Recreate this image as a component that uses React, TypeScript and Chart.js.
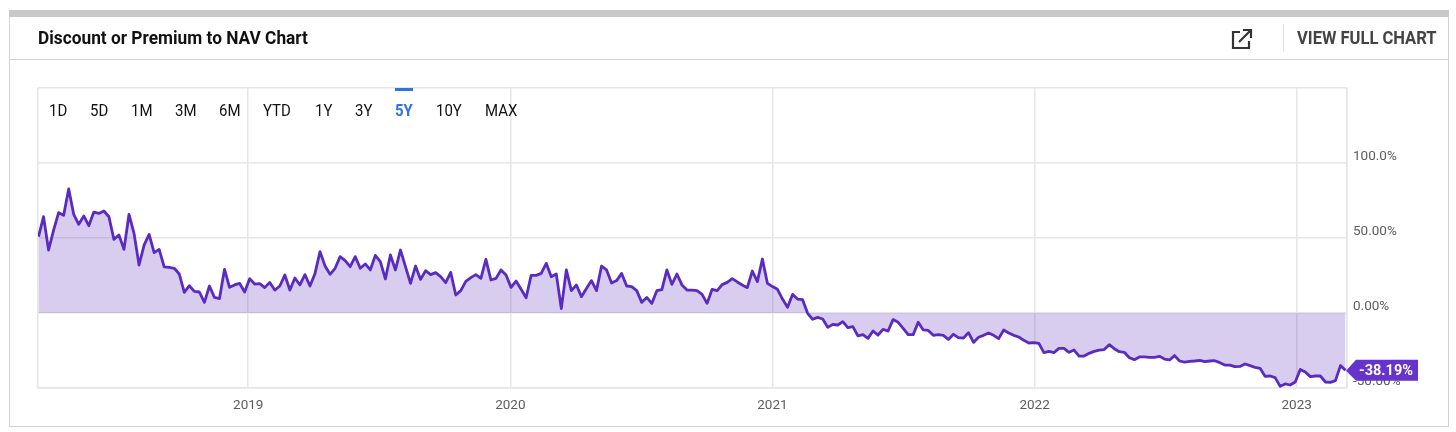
import React, { useEffect, useRef } from "react";
import { Chart, registerables } from "chart.js";

Chart.register(...registerables);

const title = "Discount or Premium to NAV Chart";
const fullChartLabel = "VIEW FULL CHART";
const rangeLabels = ["1D", "5D", "1M", "3M", "6M", "YTD", "1Y", "3Y", "5Y", "10Y", "MAX"];
const rangeLeft = [49, 90, 131, 175, 219, 263, 315, 355, 395, 436, 485];
const activeRange = "5Y";

const yearTicks = [2019, 2020, 2021, 2022, 2023];
const xMin = 2018.198;
const xMax = 2023.192;
const firstWeek = 2018.2;
const weekInYears = 7 / 365;
const yTickValues = [-50, 0, 50, 100, 150];
const yTickLabels = ["-50.00%", "0.00%", "50.00%", "100.0%", ""];
const lastLabel = "-38.19%";

const premium = [
  50.9, 64.2, 42, 55.3, 66.9, 65.1, 82.7, 65.8, 59.1, 64.7, 58.2, 67.3, 66.4, 68, 64.2, 49.1, 52, 42.4, 65.8, 53.1,
  32, 45.3, 52.4, 40.2, 42.4, 30.7, 30.4, 29.8, 26, 13.8, 18.2, 14.4, 14, 7.1, 18, 10.4, 9.6, 29.1, 17.1, 18.7,
  19.8, 14, 22.9, 19.3,
  19.6, 16.9, 20.4, 15.3, 18, 25.3, 15.3, 23.3, 18.7, 25.6, 18, 26.4, 40.9, 31.3, 25.8, 29.8, 37.6, 34.9, 30.9, 37.6,
  29.8, 32.7, 28.7, 38.4, 34.2, 22.7, 38.7, 28.7, 42, 30.9, 19.8, 31.3, 22.4, 28.2, 25.6, 26.9, 24.2, 20.2, 27.1, 12,
  14.9, 21.1, 23.6, 25.6,
  23.1, 35.8, 22, 23.1, 28.7, 25.3, 17.1, 21.3, 15.8, 10.2, 25.1, 25.1, 26.4, 33.1, 24.2, 26, 2.9, 28.7, 14.9, 18.7,
  10.9, 16.4, 21.6, 14.9, 31.3, 28.7, 20, 21.6, 26.4, 18, 17.6, 14.9, 7.1, 10.4, 6.4, 14.9, 15.6, 28.7, 19.1, 26,
  18.7, 15.3, 15.3, 14.9,
  12.4, 6.4, 15.8, 14.9, 18.9, 20.4, 22.9, 20.7, 18.7, 16.9, 28, 20.9, 36, 19.8, 17.6, 15.8, 9.3, 3.8, 12.4, 9.3,
  8.9, -0.2, -4.2, -2.9, -4, -9.6, -7.6, -8, -5.8, -9.8, -9.1, -15.3, -14.4, -16.9, -12, -14.7, -10.9, -12, -4.4, -6.2,
  -10.2, -14.4, -14.4,
  -6.2, -11.3, -11.6, -14.9, -14.4, -14.9, -17.6, -14.2, -16.4, -16.7, -13.1, -19.6, -16.2, -14.9, -13.3, -14.9, -17.1, -11.3, -13.3, -14.9,
  -16, -18.2, -20, -19.8, -20.2, -26.4, -25.6, -26.4, -23.6, -23.6, -26.2, -24.7, -28.7, -28.7, -26.9, -25.6, -24.7, -24.4, -21.1, -23.8,
  -25.8, -26.2, -29.8, -31.1,
  -29.3, -29.3, -29.6, -29.6, -28.9, -30.7, -31.3, -28.4, -32, -32.7, -32.2, -32, -31.6, -32.4, -32, -31.8, -33.1, -34.7, -34.7, -35.8,
  -35.6, -34, -35.1, -36.2, -36.9, -42.2, -42, -43.1, -48.9, -47.3, -48, -46, -37.6, -39.3, -42.4, -42, -42, -46, -46.2, -45.1,
  -35.1, -38.19,
];

const lastValueTag = {
  id: "lastValueTag",
  afterDraw(chart: any) {
    const { ctx, chartArea, scales } = chart;
    const y = scales.y.getPixelForValue(premium[premium.length - 1]);
    const tip = chartArea.right - 1;
    const h = 10.5;
    ctx.save();
    ctx.fillStyle = "#6633cc";
    ctx.beginPath();
    ctx.moveTo(tip, y + 0.5);
    ctx.lineTo(tip + 10, y - h);
    ctx.lineTo(1418, y - h);
    ctx.lineTo(1418, y + h);
    ctx.lineTo(tip + 10, y + h);
    ctx.closePath();
    ctx.fill();
    ctx.fillStyle = "#ffffff";
    ctx.font = "bold 14.5px Roboto";
    ctx.textAlign = "left";
    ctx.textBaseline = "middle";
    ctx.fillText(lastLabel, 1359, y + 1);
    ctx.restore();
  },
};

function Squeezed({ left, top, scale, style, children }: any) {
  return (
    <span
      style={{
        position: "absolute",
        left,
        top,
        whiteSpace: "nowrap",
        fontFamily: "Roboto, sans-serif",
        transform: `scaleX(${scale})`,
        transformOrigin: "left center",
        ...style,
      }}
    >
      {children}
    </span>
  );
}

export default function App() {
  const ref = useRef<HTMLCanvasElement>(null);
  useEffect(() => {
    const chart = new Chart(ref.current as HTMLCanvasElement, {
      type: "line",
      data: {
        datasets: [
          {
            data: premium.map((v, i) => ({ x: firstWeek + i * weekInYears, y: v })),
            borderColor: "#5a2bc0",
            borderWidth: 2.8,
            backgroundColor: "rgba(96,48,190,0.24)",
            fill: "origin",
            pointRadius: 0,
            tension: 0,
            borderJoinStyle: "round",
          },
        ],
      },
      options: {
        animation: false,
        responsive: false,
        layout: { padding: { left: 38, top: 88, right: 0, bottom: 0 } },
        plugins: { legend: { display: false }, tooltip: { enabled: false } },
        scales: {
          x: {
            type: "linear",
            min: xMin,
            max: xMax,
            afterFit: (s: any) => {
              s.height = 44;
            },
            afterBuildTicks: (s: any) => {
              s.ticks = [xMin, ...yearTicks, xMax].map((value) => ({ value }));
            },
            grid: { color: "#e6e6e6", lineWidth: 1.5, drawTicks: false },
            border: { color: "#e6e6e6", width: 1.5 },
            ticks: {
              autoSkip: false,
              maxRotation: 0,
              padding: 10,
              color: "#5c5c5c",
              font: { family: "Roboto", size: 13.5 },
              callback: (v: any) => (yearTicks.includes(v) ? String(v) : ""),
            },
          },
          y: {
            type: "linear",
            position: "right",
            min: -50,
            max: 150,
            afterFit: (s: any) => {
              s.width = 109;
            },
            afterBuildTicks: (s: any) => {
              s.ticks = yTickValues.map((value) => ({ value }));
            },
            grid: { color: "#e6e6e6", lineWidth: 1.5, drawTicks: false },
            border: { color: "#e6e6e6", width: 1.5 },
            ticks: {
              padding: 6,
              color: "#5c5c5c",
              font: { family: "Roboto", size: 13.5, lineHeight: "12px" },
              callback: (v: any) => [yTickLabels[yTickValues.indexOf(v)], ""],
            },
          },
        },
      },
      plugins: [lastValueTag],
    } as any);
    return () => chart.destroy();
  }, []);

  return (
    <div style={{ position: "absolute", left: 0, top: 0, width: 1456, height: 432, background: "#fff", overflow: "hidden" }}>
      <canvas ref={ref} width={1456} height={432} style={{ position: "absolute", left: 0, top: 0, width: 1456, height: 432 }} />
      <div style={{ position: "absolute", left: 9, top: 10, width: 1440, height: 417, boxSizing: "border-box", border: "1px solid #d2d2d2", borderTop: "none", pointerEvents: "none" }} />
      <div style={{ position: "absolute", left: 9, top: 10, width: 1440, height: 7, background: "#c8c8c8" }} />
      <div style={{ position: "absolute", left: 9, top: 59, width: 1440, height: 1, background: "#d2d2d2" }} />
      <div style={{ position: "absolute", left: 1283, top: 24, width: 1, height: 28, background: "#e4e4e4" }} />
      <Squeezed left={38} top={27} scale={0.91} style={{ fontSize: 19, lineHeight: "22px", fontWeight: 700, color: "#111" }}>
        {title}
      </Squeezed>
      <Squeezed left={1297} top={27} scale={0.87} style={{ fontSize: 19, lineHeight: "22px", fontWeight: 700, color: "#444" }}>
        {fullChartLabel}
      </Squeezed>
      <svg style={{ position: "absolute", left: 1231, top: 28 }} width={22} height={22} viewBox="0 0 22 22" fill="none" stroke="#333" strokeWidth={2.2}>
        <path d="M9 4 H2 V20 H18 V13" />
        <path d="M8 14 L19.5 2.5 M12 2 H20 V10" />
      </svg>
      {rangeLabels.map((label, i) => (
        <Squeezed
          key={label}
          left={rangeLeft[i]}
          top={99.5}
          scale={0.88}
          style={{
            fontSize: 17,
            lineHeight: "20px",
            fontWeight: label === activeRange ? 700 : 400,
            color: label === activeRange ? "#2f73e0" : "#111",
          }}
        >
          {label}
        </Squeezed>
      ))}
      <div style={{ position: "absolute", left: 395, top: 88, width: 18, height: 3, background: "#2f73e0" }} />
    </div>
  );
}
